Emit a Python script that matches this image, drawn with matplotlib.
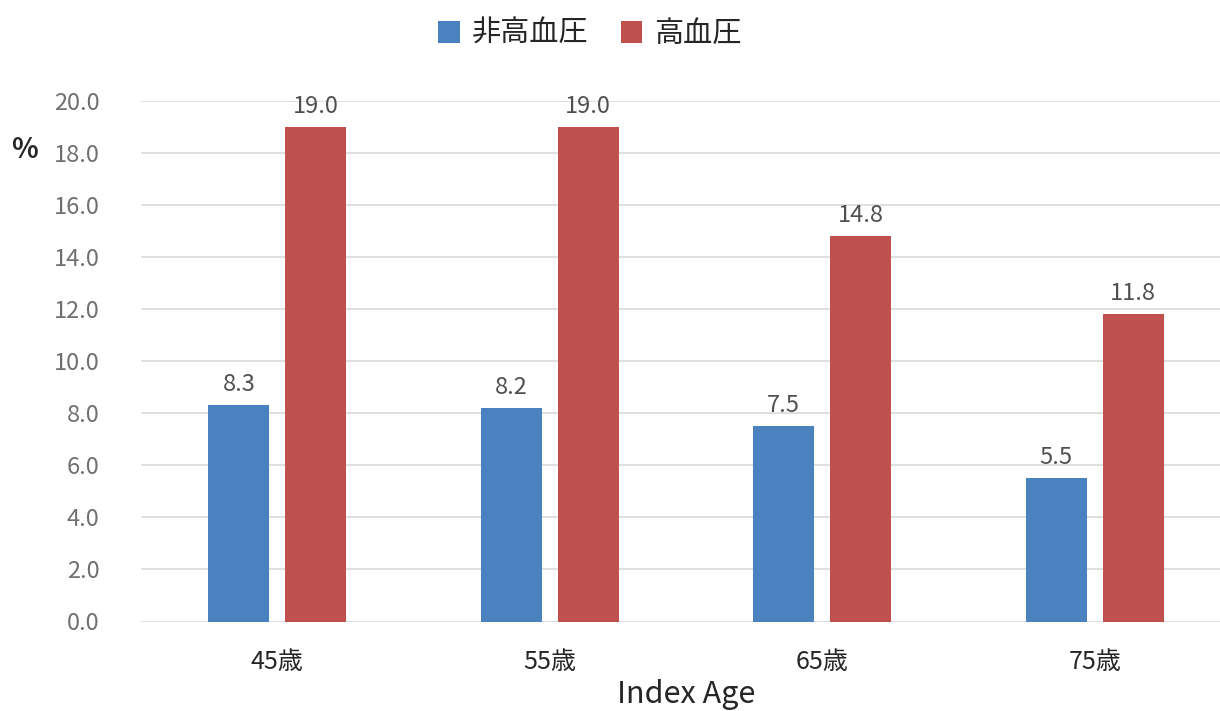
import matplotlib
matplotlib.use("Agg")
import matplotlib.pyplot as plt
import numpy as np

plt.rcParams['font.family'] = ['Noto Sans CJK JP', 'DejaVu Sans']

categories = ['45歳', '55歳', '65歳', '75歳']
non_hyp = [8.3, 8.2, 7.5, 5.5]
hyp = [19.0, 19.0, 14.8, 11.8]
series_names = ['非高血圧', '高血圧']
yticks = np.arange(0, 20.1, 2)

fig = plt.figure(figsize=(12.2, 7.11), dpi=100)
ax = fig.add_axes([141 / 1220, 1 - 621.5 / 711, 1090 / 1220, 520.5 / 711])

x = np.arange(len(categories))
w = 0.224
off = 0.141
b1 = ax.bar(x - off, non_hyp, w, color='#4a81bf', label=series_names[0], zorder=3)
b2 = ax.bar(x + off, hyp, w, color='#c0504d', label=series_names[1], zorder=3)

for bars, vals in ((b1, non_hyp), (b2, hyp)):
    for r, v in zip(bars, vals):
        ax.text(r.get_x() + r.get_width() / 2, v + 0.35, f'{v:.1f}',
                ha='center', va='bottom', fontsize=17, color='#505050')

ax.set_xlim(-0.5, len(categories) - 0.5)
ax.set_ylim(0, 20)
ax.set_yticks(yticks)
ax.set_yticklabels([f'{t:.1f}' for t in yticks], fontsize=17, color='#707070')
ax.set_xticks(x)
ax.set_xticklabels(categories, fontsize=18, color='#262626')
ax.tick_params(axis='both', length=0)
ax.tick_params(axis='y', pad=30)
ax.tick_params(axis='x', pad=20)
ax.grid(axis='y', color='#d9d9d9', linewidth=1.2, zorder=0)
for s in ax.spines.values():
    s.set_visible(False)

fig.text(686 / 1220, 1 - 694 / 711, 'Index Age', ha='center', va='center',
         fontsize=22, color='#262626')
fig.text(25 / 1220, 1 - 150 / 711, '%', ha='center', va='center',
         fontsize=20, fontweight='bold', color='#262626')

fig.legend(loc='center', bbox_to_anchor=(590 / 1220, 1 - 34 / 711), ncol=2,
           frameon=False, fontsize=21, handlelength=0.75, handleheight=0.75,
           handletextpad=0.4, columnspacing=1.1, labelcolor='#262626')

fig.savefig('out.png', dpi=100)
